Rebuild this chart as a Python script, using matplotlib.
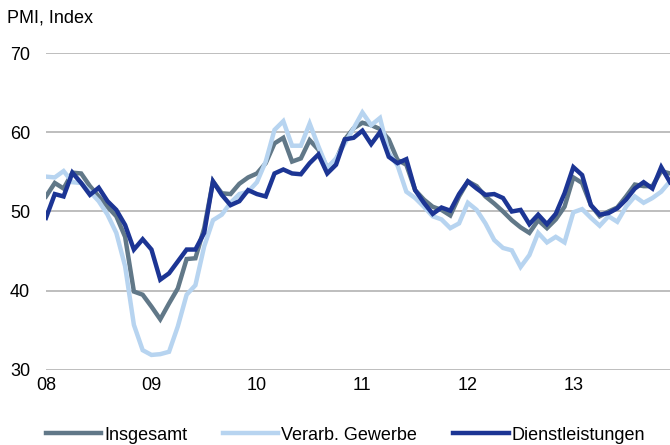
import matplotlib.pyplot as plt
import numpy as np

plt.rcParams['font.family'] = ['Liberation Sans', 'DejaVu Sans']

# monthly PMI, Jan 2008 - Dec 2013
insgesamt = [51.9, 53.6, 52.9, 54.9, 54.8, 53.2, 51.9, 50.6, 49.4, 46.8, 39.9, 39.5,
             38.0, 36.4, 38.4, 40.3, 44.0, 44.1, 47.9, 53.8, 52.3, 52.2, 53.5, 54.3,
             54.8, 56.1, 58.6, 59.3, 56.3, 56.7, 59.0, 57.8, 55.5, 56.5, 59.1, 60.5,
             61.2, 60.9, 60.4, 59.1, 56.5, 55.9, 52.7, 51.5, 50.6, 50.2, 49.5, 51.9,
             53.8, 53.2, 51.9, 51.0, 50.0, 48.9, 48.0, 47.3, 48.9, 47.9, 49.0, 50.6,
             54.3, 53.6, 50.8, 49.4, 50.0, 50.5, 51.9, 53.4, 53.2, 53.2, 55.1, 54.8]
verarb = [54.4, 54.3, 55.1, 53.7, 53.6, 52.5, 51.3, 49.6, 47.3, 43.1, 35.7, 32.5,
          31.9, 32.0, 32.3, 35.5, 39.5, 40.7, 45.6, 48.9, 49.6, 51.1, 52.2, 52.5,
          53.7, 56.3, 60.3, 61.4, 58.3, 58.3, 61.1, 58.2, 55.5, 56.7, 58.6, 60.5,
          62.5, 60.9, 61.8, 57.4, 55.8, 52.5, 51.7, 50.6, 49.4, 49.0, 47.9, 48.5,
          51.1, 50.2, 48.5, 46.4, 45.4, 45.1, 43.0, 44.5, 47.3, 46.1, 46.8, 46.1,
          49.9, 50.3, 49.2, 48.2, 49.4, 48.7, 50.6, 51.9, 51.1, 51.7, 52.5, 53.8]
dienst = [49.2, 52.2, 51.9, 54.9, 53.6, 52.1, 53.0, 51.3, 50.2, 48.3, 45.2, 46.5,
          45.2, 41.4, 42.2, 43.7, 45.2, 45.2, 47.3, 53.8, 52.1, 50.8, 51.3, 52.7,
          52.2, 51.9, 54.8, 55.3, 54.8, 54.7, 56.1, 57.2, 54.8, 55.9, 59.1, 59.3,
          60.2, 58.5, 60.0, 56.9, 56.1, 56.6, 52.7, 51.1, 49.7, 50.5, 50.1, 52.2,
          53.8, 52.9, 52.1, 52.2, 51.7, 50.0, 50.2, 48.4, 49.6, 48.4, 49.7, 52.3,
          55.6, 54.6, 50.8, 49.6, 49.8, 50.4, 51.5, 52.9, 53.7, 52.9, 55.6, 53.7]
year_labels = ['08', '09', '10', '11', '12', '13']

x = np.arange(len(dienst))

fig = plt.figure(figsize=(6.7, 4.45), dpi=100)
ax = fig.add_axes([46/670, 1 - 370/445, 1 - 46/670, (370 - 53)/445])

ax.plot(x, insgesamt, color='#617888', lw=3.2, label='Insgesamt', solid_joinstyle='miter')
ax.plot(x, verarb, color='#b7d4f0', lw=3.2, label='Verarb. Gewerbe', solid_joinstyle='miter')
ax.plot(x, dienst, color='#1c3594', lw=3.2, label='Dienstleistungen', solid_joinstyle='miter')

ax.set_xlim(0, 71)
ax.set_ylim(30, 70)
ax.set_yticks([30, 40, 50, 60, 70])
ax.set_xticks(np.arange(0, 72, 12))
ax.set_xticklabels(year_labels)
ax.grid(axis='y', color='#b3b3b3', lw=1.2)
ax.set_axisbelow(True)
for s in ['top', 'right', 'left', 'bottom']:
    ax.spines[s].set_visible(False)
ax.tick_params(length=0, labelsize=13, colors='black')
ax.tick_params(axis='y', pad=11.5)
ax.tick_params(axis='x', pad=5)

fig.text(7/670, 1 - 18/445, 'PMI, Index', fontsize=13, va='center', ha='left')

fig.legend(loc='center', bbox_to_anchor=(345.5/670, 1 - 435/445), ncol=3, frameon=False,
           fontsize=13, handlelength=3.05, handletextpad=0.17, columnspacing=2.0)

fig.savefig('out.png', dpi=100)
